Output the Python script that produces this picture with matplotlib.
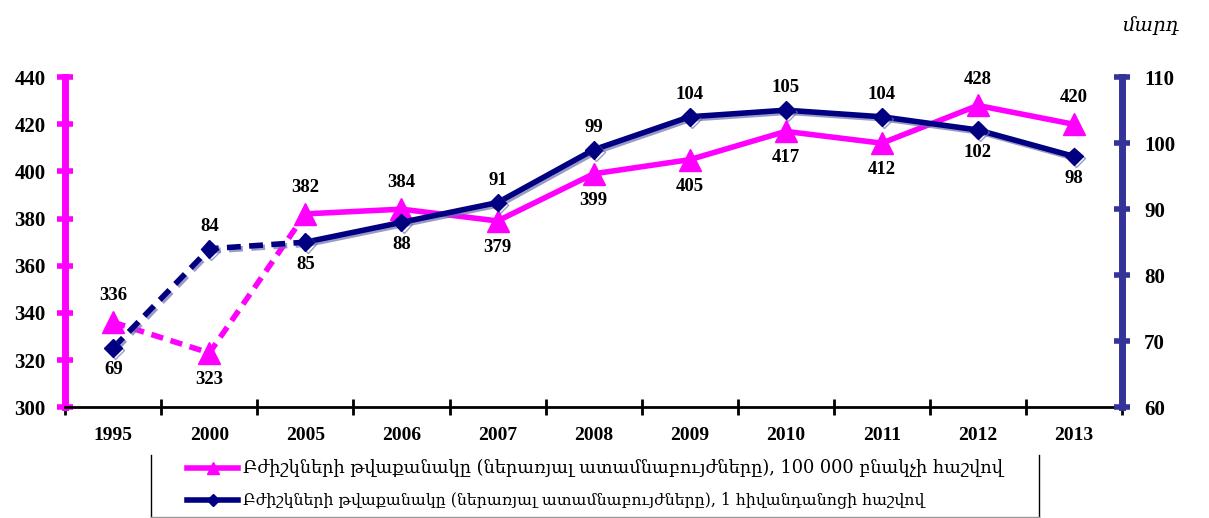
import matplotlib
matplotlib.use("Agg")
import matplotlib.pyplot as plt
import matplotlib.patheffects as pe
from matplotlib.lines import Line2D

# data
years = ["1995", "2000", "2005", "2006", "2007", "2008", "2009", "2010", "2011", "2012", "2013"]
per_100k = [336, 323, 382, 384, 379, 399, 405, 417, 412, 428, 420]
per_hospital = [69, 84, 85, 88, 91, 99, 104, 105, 104, 102, 98]
pink_pos = ["up", "down", "up", "up", "down", "down", "down", "down", "down", "up", "up"]
blue_pos = ["down", "up", "down", "down", "up", "up", "up", "up", "up", "down", "down"]
label_100k = "Բժիշկների թվաքանակը (ներառյալ ատամնաբույժները), 100 000 բնակչի հաշվով"
label_hosp = "Բժիշկների թվաքանակը (ներառյալ ատամնաբույժները), 1 հիվանդանոցի հաշվով"
unit = "մարդ"

pink = "#FF00FF"
navy = "#000080"
axblue = "#333399"
numfont = "Liberation Serif"

fig = plt.figure(figsize=(12.09, 5.18), dpi=100)
ax = fig.add_axes([0.054, 0.214, 0.874, 0.637])
ax2 = ax.twinx()

x = list(range(len(years)))
shadow = [pe.SimpleLineShadow(offset=(1.5, -1.5), shadow_color="#7070b0", alpha=0.7), pe.Normal()]

# pink line: dashed for first part, solid afterwards
ax.plot(x[:3], per_100k[:3], color=pink, lw=4, ls=(0, (2.2, 1.4)), zorder=3)
ax.plot(x[2:], per_100k[2:], color=pink, lw=4, zorder=3)
ax.plot(x, per_100k, ls="none", marker="^", ms=16, color=pink, zorder=4)

# blue line on right axis
ax2.plot(x[:3], per_hospital[:3], color=navy, lw=4, ls=(0, (2.5, 1.5)), zorder=3, path_effects=shadow)
ax2.plot(x[2:], per_hospital[2:], color=navy, lw=4, zorder=3, path_effects=shadow)
ax2.plot(x, per_hospital, ls="none", marker="D", ms=9, color=navy, zorder=4, path_effects=shadow)

for i, v in enumerate(per_100k):
    dy = 19 if pink_pos[i] == "up" else -19
    ax.annotate(str(v), (i, v), xytext=(0, dy), textcoords="offset points",
                ha="center", va="center", fontsize=13.5, fontweight="bold", family=numfont)
for i, v in enumerate(per_hospital):
    dy = 16 if blue_pos[i] == "up" else -16
    ax2.annotate(str(v), (i, v), xytext=(0, dy), textcoords="offset points",
                 ha="center", va="center", fontsize=13.5, fontweight="bold", family=numfont)

ax.set_xlim(-0.5, len(years) - 0.5)
ax.set_ylim(300, 440)
ax.set_yticks(range(300, 441, 20))
ax2.set_ylim(60, 110)
ax2.set_yticks(range(60, 111, 10))

ax.set_xticks(x)
ax.set_xticklabels(years, fontsize=14, fontweight="bold", family=numfont)
ax.set_xticks([i - 0.5 for i in range(len(years) + 1)], minor=True)
ax.tick_params(axis="x", which="major", length=0, pad=14)
ax.tick_params(axis="x", which="minor", length=12, width=2, direction="inout", color="black")

for a in (ax, ax2):
    a.spines["top"].set_visible(False)
ax.spines["right"].set_visible(False)
ax2.spines["left"].set_visible(False)
ax2.spines["bottom"].set_visible(False)
ax.spines["bottom"].set_linewidth(2)
ax.spines["left"].set_color(pink)
ax.spines["left"].set_linewidth(5)
ax2.spines["right"].set_color(axblue)
ax2.spines["right"].set_linewidth(5)

ax.tick_params(axis="y", length=12, width=4, direction="inout", color=pink, pad=8)
ax2.tick_params(axis="y", length=12, width=4, direction="inout", color=axblue, pad=10)
for lab in ax.get_yticklabels() + ax2.get_yticklabels():
    lab.set_fontsize(15)
    lab.set_fontweight("bold")
    lab.set_family(numfont)

# unit label
fig.text(0.975, 0.95, unit, style="italic", fontsize=14, family="DejaVu Serif", ha="right", va="center")

# legend box (left, right, bottom borders)
fig.add_artist(Line2D([0.125, 0.125], [0.0, 0.122], color="black", lw=1))
fig.add_artist(Line2D([0.859, 0.859], [0.0, 0.122], color="black", lw=1))
fig.add_artist(Line2D([0.125, 0.859], [0.002, 0.002], color="#999999", lw=1))
fig.add_artist(Line2D([0.155, 0.176, 0.197], [0.097, 0.097, 0.097], color=pink, lw=4,
                      marker="^", ms=9, markevery=[1]))
fig.add_artist(Line2D([0.155, 0.176, 0.197], [0.035, 0.035, 0.035], color=navy, lw=4,
                      marker="D", ms=6, markevery=[1]))
fig.text(0.201, 0.097, label_100k, fontsize=12.8, family="DejaVu Serif", va="center")
fig.text(0.201, 0.035, label_hosp, fontsize=11.3, family="DejaVu Serif", va="center")

fig.savefig("out.png", dpi=100)
